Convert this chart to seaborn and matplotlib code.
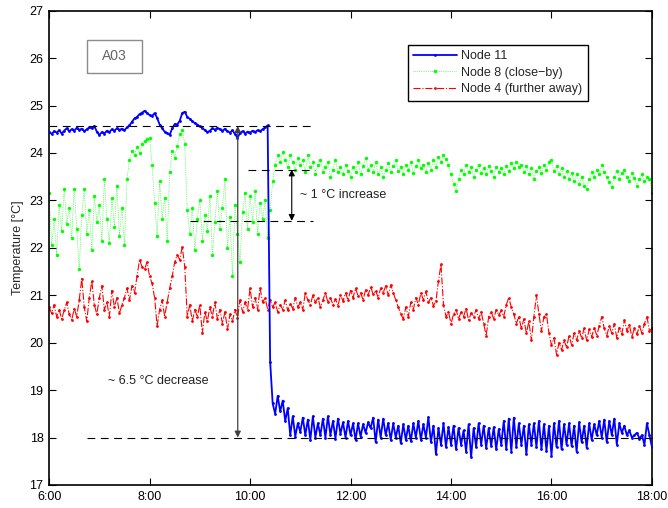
import numpy as np
import pandas as pd
import matplotlib
matplotlib.use("Agg")
import matplotlib.pyplot as plt
from matplotlib.patches import Rectangle
import seaborn as sns

# ---------------- data (3-minute samples, 6:00 .. 18:00) ----------------
start_hour = 6.0
step_hour = 0.05

node11 = [
    24.45, 24.40, 24.46, 24.43, 24.48, 24.41, 24.47, 24.52, 24.46, 24.50,
    24.47, 24.53, 24.49, 24.51, 24.46, 24.50, 24.54, 24.52, 24.57, 24.45,
    24.38, 24.44, 24.41, 24.47, 24.44, 24.50, 24.47, 24.52, 24.49, 24.51,
    24.48, 24.54, 24.58, 24.66, 24.73, 24.76, 24.82, 24.85, 24.89, 24.84,
    24.80, 24.78, 24.84, 24.74, 24.60, 24.52, 24.45, 24.42, 24.38, 24.52,
    24.61, 24.60, 24.68, 24.84, 24.87, 24.76, 24.72, 24.67, 24.63, 24.60,
    24.56, 24.53, 24.48, 24.44, 24.47, 24.52, 24.49, 24.53, 24.50, 24.47,
    24.51, 24.46, 24.43, 24.48, 24.40, 24.32, 24.42, 24.46, 24.41, 24.45,
    24.43, 24.47, 24.44, 24.48, 24.46, 24.50, 24.54, 24.58, 19.60, 18.72,
    18.50, 18.88, 18.55, 18.78, 18.35, 18.62, 18.05, 18.45, 18.02, 18.30,
    18.12, 18.42, 18.05, 18.38, 17.95, 18.45, 18.00, 18.30, 18.05, 18.40,
    18.00, 18.45, 18.05, 18.35, 17.98, 18.40, 18.08, 18.32, 18.00, 18.35,
    18.05, 18.30, 17.95, 18.30, 18.02, 18.28, 18.10, 18.32, 18.20, 18.42,
    17.90, 18.38, 18.00, 18.40, 18.05, 18.30, 17.95, 18.30, 18.00, 18.25,
    17.88, 18.28, 17.95, 18.25, 17.92, 18.30, 18.00, 18.35, 17.95, 18.28,
    18.00, 18.43, 17.90, 18.25, 17.65, 18.20, 17.85, 18.30, 17.80, 18.22,
    17.85, 18.25, 17.75, 18.20, 17.85, 18.15, 17.70, 18.28, 17.58, 18.20,
    17.80, 18.30, 17.85, 18.25, 17.78, 18.20, 17.82, 18.22, 17.75, 18.18,
    17.85, 18.35, 17.75, 18.40, 17.70, 18.42, 17.80, 18.30, 17.85, 18.25,
    17.65, 18.28, 17.85, 18.30, 17.80, 18.35, 17.75, 18.28, 17.72, 18.25,
    17.62, 18.30, 17.80, 18.35, 17.75, 18.28, 17.85, 18.30, 17.82, 18.25,
    17.70, 18.32, 17.90, 18.25, 17.78, 18.30, 17.95, 18.28, 18.05, 18.35,
    18.00, 18.38, 17.90, 18.35, 18.05, 18.40, 17.85, 18.30, 18.10, 18.25,
    18.05, 18.15, 18.00, 18.05, 18.10, 17.98, 18.05, 17.85, 18.30, 18.05,
    17.80,
]

node8 = [
    23.15, 22.05, 22.60, 21.85, 22.90, 22.35, 23.25, 22.50, 22.85, 22.20,
    23.25, 22.40, 21.55, 22.70, 23.25, 22.30, 22.80, 21.95, 23.10, 22.55,
    22.90, 22.15, 23.45, 22.60, 22.10, 23.05, 22.45, 23.30, 22.25, 22.85,
    22.05, 23.45, 23.85, 24.05, 23.95, 24.12, 24.00, 24.20, 24.25, 24.30,
    24.32, 23.75, 22.95, 22.25, 23.40, 22.60, 23.05, 22.15, 23.60, 24.05,
    23.90, 24.15, 24.40, 24.48, 24.20, 22.80, 22.30, 22.85, 21.95, 22.60,
    23.00, 22.15, 22.70, 22.35, 23.10, 21.85, 22.55, 23.20, 22.40, 22.85,
    23.45, 22.00, 22.65, 21.40, 22.90, 22.30, 21.70, 22.75, 23.15, 22.40,
    23.10, 22.55, 23.20, 22.30, 22.95, 22.60, 23.00, 22.20, 22.80, 23.40,
    23.75, 23.95, 23.80, 24.02, 23.85, 23.70, 23.95, 23.80, 23.65, 23.90,
    23.75, 23.85, 23.60, 23.95, 23.70, 23.80, 23.55, 23.75, 23.85, 23.60,
    23.70, 23.80, 23.50, 23.65, 23.85, 23.60, 23.70, 23.55, 23.75, 23.62,
    23.50, 23.70, 23.60, 23.80, 23.55, 23.72, 23.90, 23.65, 23.75, 23.60,
    23.80, 23.55, 23.70, 23.50, 23.65, 23.78, 23.60, 23.72, 23.85, 23.62,
    23.70, 23.55, 23.75, 23.65, 23.80, 23.58, 23.72, 23.85, 23.68, 23.75,
    23.60, 23.78, 23.65, 23.85, 23.70, 23.92, 23.80, 23.95, 23.88, 23.75,
    23.55, 23.35, 23.20, 23.45, 23.65, 23.55, 23.75, 23.60, 23.70, 23.50,
    23.65, 23.75, 23.58, 23.68, 23.55, 23.72, 23.62, 23.50, 23.70, 23.60,
    23.68, 23.55, 23.72, 23.62, 23.78, 23.68, 23.82, 23.70, 23.75, 23.60,
    23.72, 23.55, 23.68, 23.45, 23.62, 23.70, 23.58, 23.75, 23.65, 23.80,
    23.85, 23.62, 23.72, 23.55, 23.68, 23.50, 23.62, 23.45, 23.58, 23.40,
    23.55, 23.35, 23.50, 23.30, 23.25, 23.45, 23.60, 23.50, 23.65, 23.55,
    23.75, 23.60, 23.50, 23.38, 23.28, 23.50, 23.62, 23.45, 23.58, 23.65,
    23.50, 23.42, 23.58, 23.48, 23.30, 23.45, 23.55, 23.40, 23.50, 23.45,
    23.15,
]

node4 = [
    20.75, 20.62, 20.80, 20.55, 20.70, 20.50, 20.68, 20.85, 20.60, 20.48,
    20.72, 20.55, 20.90, 21.35, 20.75, 20.45, 20.95, 21.30, 20.80, 20.60,
    20.95, 21.20, 20.70, 20.85, 20.55, 21.10, 20.75, 20.95, 20.62, 20.80,
    20.95, 21.15, 20.90, 21.20, 21.05, 21.40, 21.75, 21.60, 21.55, 21.70,
    21.40, 21.25, 20.95, 20.35, 20.70, 20.90, 20.55, 20.85, 21.15, 21.40,
    21.70, 21.85, 21.75, 22.02, 21.60, 20.55, 20.80, 20.45, 20.70, 20.55,
    20.80, 20.20, 20.65, 20.45, 20.75, 20.55, 20.85, 20.50, 20.70, 20.40,
    20.65, 20.28, 20.60, 20.45, 20.70, 20.52, 20.90, 20.65, 20.85, 20.70,
    21.15, 20.75, 20.95, 20.70, 21.15, 20.85, 20.95, 20.70, 20.90, 20.75,
    20.85, 20.65, 20.80, 20.70, 20.90, 20.68, 20.82, 20.72, 20.95, 20.75,
    20.85, 20.70, 21.05, 20.90, 20.80, 21.00, 20.85, 20.95, 20.75, 20.90,
    21.05, 20.85, 20.95, 20.80, 20.92, 20.78, 21.00, 20.88, 21.05, 20.90,
    21.10, 20.95, 21.15, 20.98, 21.05, 20.90, 21.12, 21.00, 21.18, 21.02,
    21.10, 20.95, 21.15, 21.05, 21.20, 21.00, 21.22, 21.05, 20.90, 20.75,
    20.60, 20.50, 20.75, 20.55, 20.85, 20.70, 20.95, 20.80, 21.05, 20.90,
    21.08, 20.85, 20.95, 20.78, 20.88, 21.30, 21.65, 20.80, 20.55, 20.65,
    20.40, 20.60, 20.70, 20.50, 20.65, 20.55, 20.72, 20.48, 20.62, 20.55,
    20.70, 20.50, 20.65, 20.40, 20.15, 20.55, 20.65, 20.50, 20.70, 20.58,
    20.68, 20.55, 20.80, 20.95, 20.75, 20.60, 20.40, 20.55, 20.30, 20.50,
    20.20, 20.45, 20.05, 20.55, 21.00, 20.60, 20.25, 20.55, 20.60, 20.20,
    19.95, 20.10, 19.75, 20.00, 19.85, 20.05, 19.90, 20.15, 19.95, 20.20,
    20.05, 20.25, 20.10, 20.30, 20.05, 20.28, 20.12, 20.32, 20.15, 20.35,
    20.55, 20.30, 20.15, 20.35, 20.20, 20.40, 20.10, 20.32, 20.18, 20.48,
    20.25, 20.38, 20.12, 20.30, 20.18, 20.35, 20.20, 20.40, 20.55, 20.25,
    20.30,
]

hours = start_hour + step_hour * np.arange(len(node11))
tick_hours = [6, 8, 10, 12, 14, 16, 18]
tick_labels = ["6:00", "8:00", "10:00", "12:00", "14:00", "16:00", "18:00"]
series_labels = ["Node 11", "Node 8 (close\u2212by)", "Node 4 (further away)"]

# annotation reference levels
level_before = 24.57
level_after = 18.0
green_before = 22.57
green_after = 23.65

df = pd.DataFrame({"hour": hours, "n11": node11, "n8": node8, "n4": node4})

# ---------------- styling ----------------
sns.set_theme(style="ticks")
plt.rcParams["font.family"] = ["Liberation Sans", "DejaVu Sans"]
plt.rcParams["font.size"] = 9

fig = plt.figure(figsize=(6.68, 5.08), dpi=100)
ax = fig.add_axes([0.0735, 0.0453, 0.9025, 0.9336])

sns.lineplot(data=df, x="hour", y="n11", ax=ax, color="#0000FF", lw=1.3,
             marker=".", markersize=4, markeredgecolor="#0000FF",
             markeredgewidth=0, label=series_labels[0], zorder=3)
sns.lineplot(data=df, x="hour", y="n8", ax=ax, color="#00FF00", lw=0.5,
             linestyle=":", marker=".", markersize=5,
             markeredgecolor="#00FF00", markeredgewidth=0,
             label=series_labels[1], zorder=2)
sns.lineplot(data=df, x="hour", y="n4", ax=ax, color="#FF0000", lw=0.8,
             linestyle="-.", marker=".", markersize=4,
             markeredgecolor="#FF0000", markeredgewidth=0,
             label=series_labels[2], zorder=2)

# dashed reference lines
dash_kw = dict(color="black", lw=0.8, dashes=(7, 5), zorder=4)
ax.plot([6.0, 11.3], [level_before, level_before], **dash_kw)
ax.plot([9.96, 11.3], [green_after, green_after], **dash_kw)
ax.plot([8.8, 11.25], [green_before, green_before], **dash_kw)
ax.plot([6.75, 18.0], [level_after, level_after], **dash_kw)

# arrows
ax.annotate("", xy=(9.755, level_after), xytext=(9.755, level_before),
            arrowprops=dict(arrowstyle="<|-|>", color="#404040", lw=0.9,
                            mutation_scale=9, shrinkA=0, shrinkB=0), zorder=5)
ax.annotate("", xy=(10.83, green_before), xytext=(10.83, green_after),
            arrowprops=dict(arrowstyle="<|-|>", color="black", lw=0.8,
                            mutation_scale=9, shrinkA=0, shrinkB=0), zorder=5)

ax.text(7.17, 19.2, "~ 6.5 \u00b0C decrease", ha="left", va="center",
        fontsize=9, color="#222222")
ax.text(10.99, 23.11, "~ 1 \u00b0C increase", ha="left", va="center",
        fontsize=9, color="#222222")

# A03 box
ax.add_patch(Rectangle((0.0622, 0.869), 0.0922, 0.069, transform=ax.transAxes,
                       fill=False, ec="#8c8c8c", lw=1.0, zorder=6))
ax.text(0.108, 0.9035, "A03", transform=ax.transAxes, ha="center",
        va="center", fontsize=10, color="#666666")

ax.set_xlim(6, 18)
ax.set_ylim(17, 27)
ax.set_xticks(tick_hours)
ax.set_xticklabels(tick_labels)
ax.set_yticks(range(17, 28))
ax.set_xlabel("")
ax.set_ylabel("Temperature [\u00b0C]", fontsize=9)
ax.tick_params(direction="in", top=True, right=True, length=5, width=0.8,
               labelsize=9, pad=4, colors="black")
for sp in ax.spines.values():
    sp.set_visible(True)
    sp.set_linewidth(1.2)
    sp.set_color("black")

leg = ax.legend(loc="upper right", bbox_to_anchor=(0.894, 0.928),
                borderaxespad=0, fancybox=False, framealpha=1,
                edgecolor="black", fontsize=9, handlelength=3.5,
                handletextpad=0.35, labelspacing=0.35, borderpad=0.45)
leg.get_frame().set_linewidth(1.0)

fig.savefig("out.png", dpi=100)
